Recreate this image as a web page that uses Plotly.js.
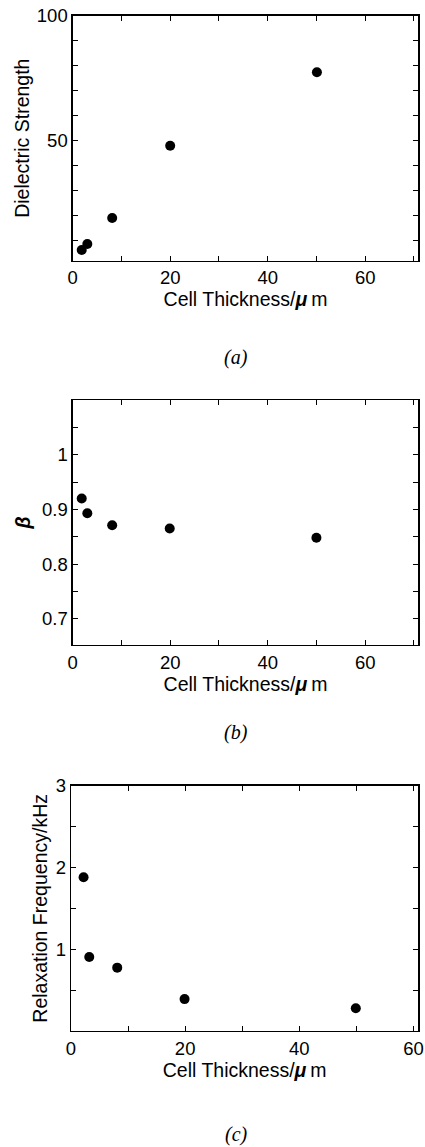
<!DOCTYPE html>
<html>
<head>
<meta charset="utf-8">
<script src="https://cdn.plot.ly/plotly-3.0.1.min.js"></script>
<style>
  html, body { margin: 0; padding: 0; background: #fff; }
  #chart { width: 425px; height: 1147px; }
</style>
</head>
<body>
<div id="chart"></div>
<script>
// ---- Data ----
// (a) Dielectric strength vs cell thickness
const thicknessA = [1.85, 3.0, 8.1, 20.0, 50.1];
const dielectricStrength = [6.3, 8.7, 19.1, 48.0, 77.4];
// (b) beta vs cell thickness
const thicknessB = [1.85, 3.0, 8.1, 19.9, 50.0];
const betaValues = [0.920, 0.893, 0.871, 0.865, 0.848];
// (c) relaxation frequency vs cell thickness
const thicknessC = [2.2, 3.2, 8.1, 19.9, 49.9];
const relaxFreq = [1.88, 0.905, 0.775, 0.39, 0.278];

// Tick values / labels
const xTickValsAB = [0, 10, 20, 30, 40, 50, 60, 70];
const xTickTextAB = ['0', '', '20', '', '40', '', '60', ''];
const xTickValsC = [0, 10, 20, 30, 40, 50, 60];
const xTickTextC = ['0', '', '20', '', '40', '', '60'];
const yTickValsA = [10, 20, 30, 40, 50, 60, 70, 80, 90, 100];
const yTickTextA = ['', '', '', '', '50', '', '', '', '', '100'];
const yTickValsB = [0.7, 0.75, 0.8, 0.85, 0.9, 0.95, 1.0, 1.05];
const yTickTextB = ['0.7', '', '0.8', '', '0.9', '', '1', ''];
const yTickValsC = [0.5, 1, 1.5, 2, 2.5, 3];
const yTickTextC = ['', '1', '', '2', '', '3'];

const xTitle = 'Cell Thickness/<b><i>μ</i></b>\u2009m';

const FONT = 'Liberation Sans, Arial, Helvetica, sans-serif';
const tickFont = {family: FONT, size: 18.5, color: '#000'};
const titleFont = {family: FONT, size: 19.5, color: '#000'};

function axisBase() {
  return {
    showline: true, linecolor: '#000', linewidth: 1.3, mirror: 'ticks',
    ticks: 'inside', ticklen: 5, tickwidth: 1, tickcolor: '#000',
    showgrid: false, zeroline: false, tickfont: tickFont,
    tickmode: 'array', automargin: false, fixedrange: true
  };
}

const marker = {color: '#000', size: 10};

const traces = [
  {x: thicknessA, y: dielectricStrength, type: 'scatter', mode: 'markers', marker: marker, xaxis: 'x', yaxis: 'y'},
  {x: thicknessB, y: betaValues, type: 'scatter', mode: 'markers', marker: marker, xaxis: 'x2', yaxis: 'y2'},
  {x: thicknessC, y: relaxFreq, type: 'scatter', mode: 'markers', marker: marker, xaxis: 'x3', yaxis: 'y3'}
];

const H = 1147, W = 425;
function ydom(top, bottom) { return [1 - bottom / H, 1 - top / H]; }

const layout = {
  width: W, height: H,
  margin: {l: 0, r: 0, t: 0, b: 0},
  paper_bgcolor: '#fff', plot_bgcolor: '#fff',
  showlegend: false,
  xaxis: Object.assign(axisBase(), {
    domain: [72.7 / W, 418.3 / W], range: [0, 70.9], anchor: 'y',
    tickvals: xTickValsAB, ticktext: xTickTextAB,
    title: {text: xTitle, font: titleFont, standoff: 1}
  }),
  yaxis: Object.assign(axisBase(), {
    domain: ydom(15.7, 260.7), range: [2, 100], anchor: 'x',
    tickvals: yTickValsA, ticktext: yTickTextA,
    title: {text: 'Dielectric Strength', font: titleFont, standoff: 2}
  }),
  xaxis2: Object.assign(axisBase(), {
    domain: [72.7 / W, 418.3 / W], range: [0, 70.9], anchor: 'y2',
    tickvals: xTickValsAB, ticktext: xTickTextAB,
    title: {text: xTitle, font: titleFont, standoff: 1}
  }),
  yaxis2: Object.assign(axisBase(), {
    domain: ydom(400, 645), range: [0.652, 1.1], anchor: 'x2',
    tickvals: yTickValsB, ticktext: yTickTextB,
    title: {text: '<b><i>β</i></b>', font: titleFont, standoff: 6}
  }),
  xaxis3: Object.assign(axisBase(), {
    domain: [71 / W, 418.3 / W], range: [0, 60.85], anchor: 'y3',
    tickvals: xTickValsC, ticktext: xTickTextC,
    title: {text: xTitle, font: titleFont, standoff: 1}
  }),
  yaxis3: Object.assign(axisBase(), {
    domain: ydom(785.7, 1031), range: [0, 3], anchor: 'x3',
    tickvals: yTickValsC, ticktext: yTickTextC,
    title: {text: 'Relaxation Frequency/kHz', font: titleFont, standoff: 3}
  }),
  annotations: [
    {text: '<i>(a)</i>', x: 236 / W, y: 1 - 357 / H},
    {text: '<i>(b)</i>', x: 236 / W, y: 1 - 732 / H},
    {text: '<i>(c)</i>', x: 236 / W, y: 1 - 1134 / H}
  ].map(a => Object.assign(a, {
    xref: 'paper', yref: 'paper', showarrow: false, xanchor: 'center', yanchor: 'middle',
    font: {family: 'Liberation Serif, Times New Roman, serif', size: 20, color: '#000'}
  }))
};

Plotly.newPlot('chart', traces, layout, {displayModeBar: false, staticPlot: true});
</script>
</body>
</html>
